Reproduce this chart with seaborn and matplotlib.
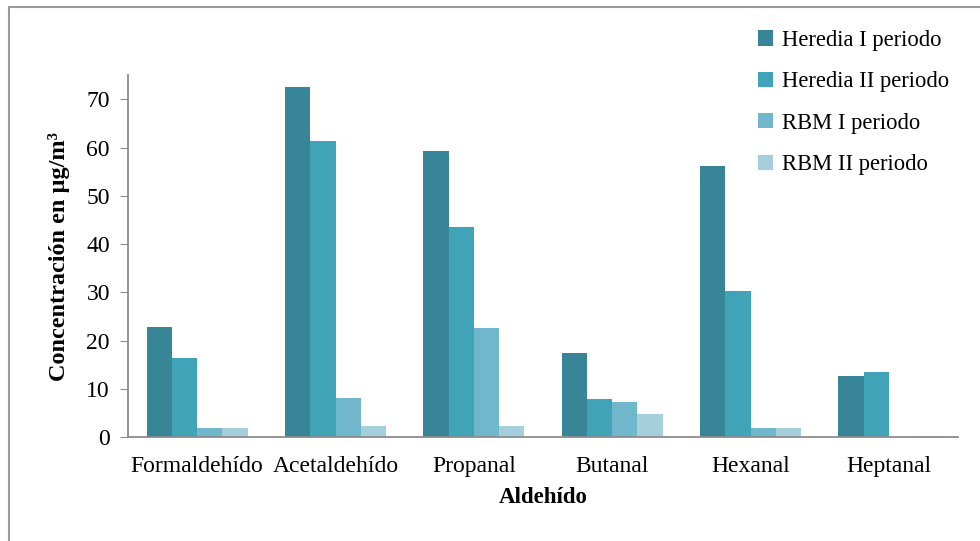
import matplotlib
matplotlib.use("Agg")
import matplotlib.pyplot as plt
import seaborn as sns
import pandas as pd
from matplotlib.lines import Line2D

categories = ["Formaldehído", "Acetaldehído", "Propanal", "Butanal", "Hexanal", "Heptanal"]
series = ["Heredia I periodo", "Heredia II periodo", "RBM I periodo", "RBM II periodo"]
heredia_1 = [22.8, 72.5, 59.2, 17.5, 56.2, 12.6]
heredia_2 = [16.3, 61.3, 43.5, 7.9, 30.3, 13.4]
rbm_1 = [1.8, 8.2, 22.6, 7.2, 1.9, 0.0]
rbm_2 = [1.8, 2.3, 2.3, 4.7, 1.8, 0.3]
colors = ["#388597", "#41A3B8", "#71B7CB", "#A5CFDC"]

rows = []
for s, vals in zip(series, [heredia_1, heredia_2, rbm_1, rbm_2]):
    for c, v in zip(categories, vals):
        rows.append({"Aldehído": c, "Serie": s, "Valor": v})
df = pd.DataFrame(rows)

sns.set_style("white")
plt.rcParams['font.family'] = ['Liberation Serif', 'DejaVu Serif']
plt.rcParams['text.color'] = 'black'
plt.rcParams['axes.labelcolor'] = 'black'
plt.rcParams['xtick.color'] = 'black'
plt.rcParams['ytick.color'] = 'black'

fig = plt.figure(figsize=(9.8, 5.41), dpi=100)
ax = fig.add_axes([0.1306, 0.192, 0.8470, 0.669])
sns.barplot(data=df, x="Aldehído", y="Valor", hue="Serie", hue_order=series,
            order=categories, palette=colors, saturation=1, width=0.73,
            errorbar=None, ax=ax, edgecolor="none", linewidth=0)

ax.set_xlim(-0.5, 5.5)
ax.set_ylim(0, 75)
ax.set_yticks(range(0, 71, 10))
for sp in ["top", "right"]:
    ax.spines[sp].set_visible(False)
for sp in ["left", "bottom"]:
    ax.spines[sp].set_color("#8c8c8c")
    ax.spines[sp].set_linewidth(1.3)
ax.tick_params(axis="y", left=True, length=6, color="#8c8c8c", labelcolor="black", labelsize=17, pad=7)
ax.tick_params(axis="x", bottom=False, labelsize=17, labelcolor="black", pad=10)
ax.set_xlabel("Aldehído", fontsize=16.5, fontweight="bold", labelpad=7)
ax.set_ylabel("Concentración en µg/m³", fontsize=17.5, fontweight="bold", labelpad=12)

leg = ax.legend(loc="upper left", bbox_to_anchor=(0.748, 1.15), frameon=False,
                fontsize=16.3, handlelength=0.65, handleheight=0.65, handletextpad=0.4,
                labelspacing=0.9, borderaxespad=0)

# Outer frame lines (image border)
fig.add_artist(Line2D([9/980, 9/980], [0, 1 - 7/541], color="#999999", lw=1.5, transform=fig.transFigure))
fig.add_artist(Line2D([9/980, 1], [1 - 7/541, 1 - 7/541], color="#999999", lw=1.5, transform=fig.transFigure))

fig.savefig("out.png", dpi=100)
